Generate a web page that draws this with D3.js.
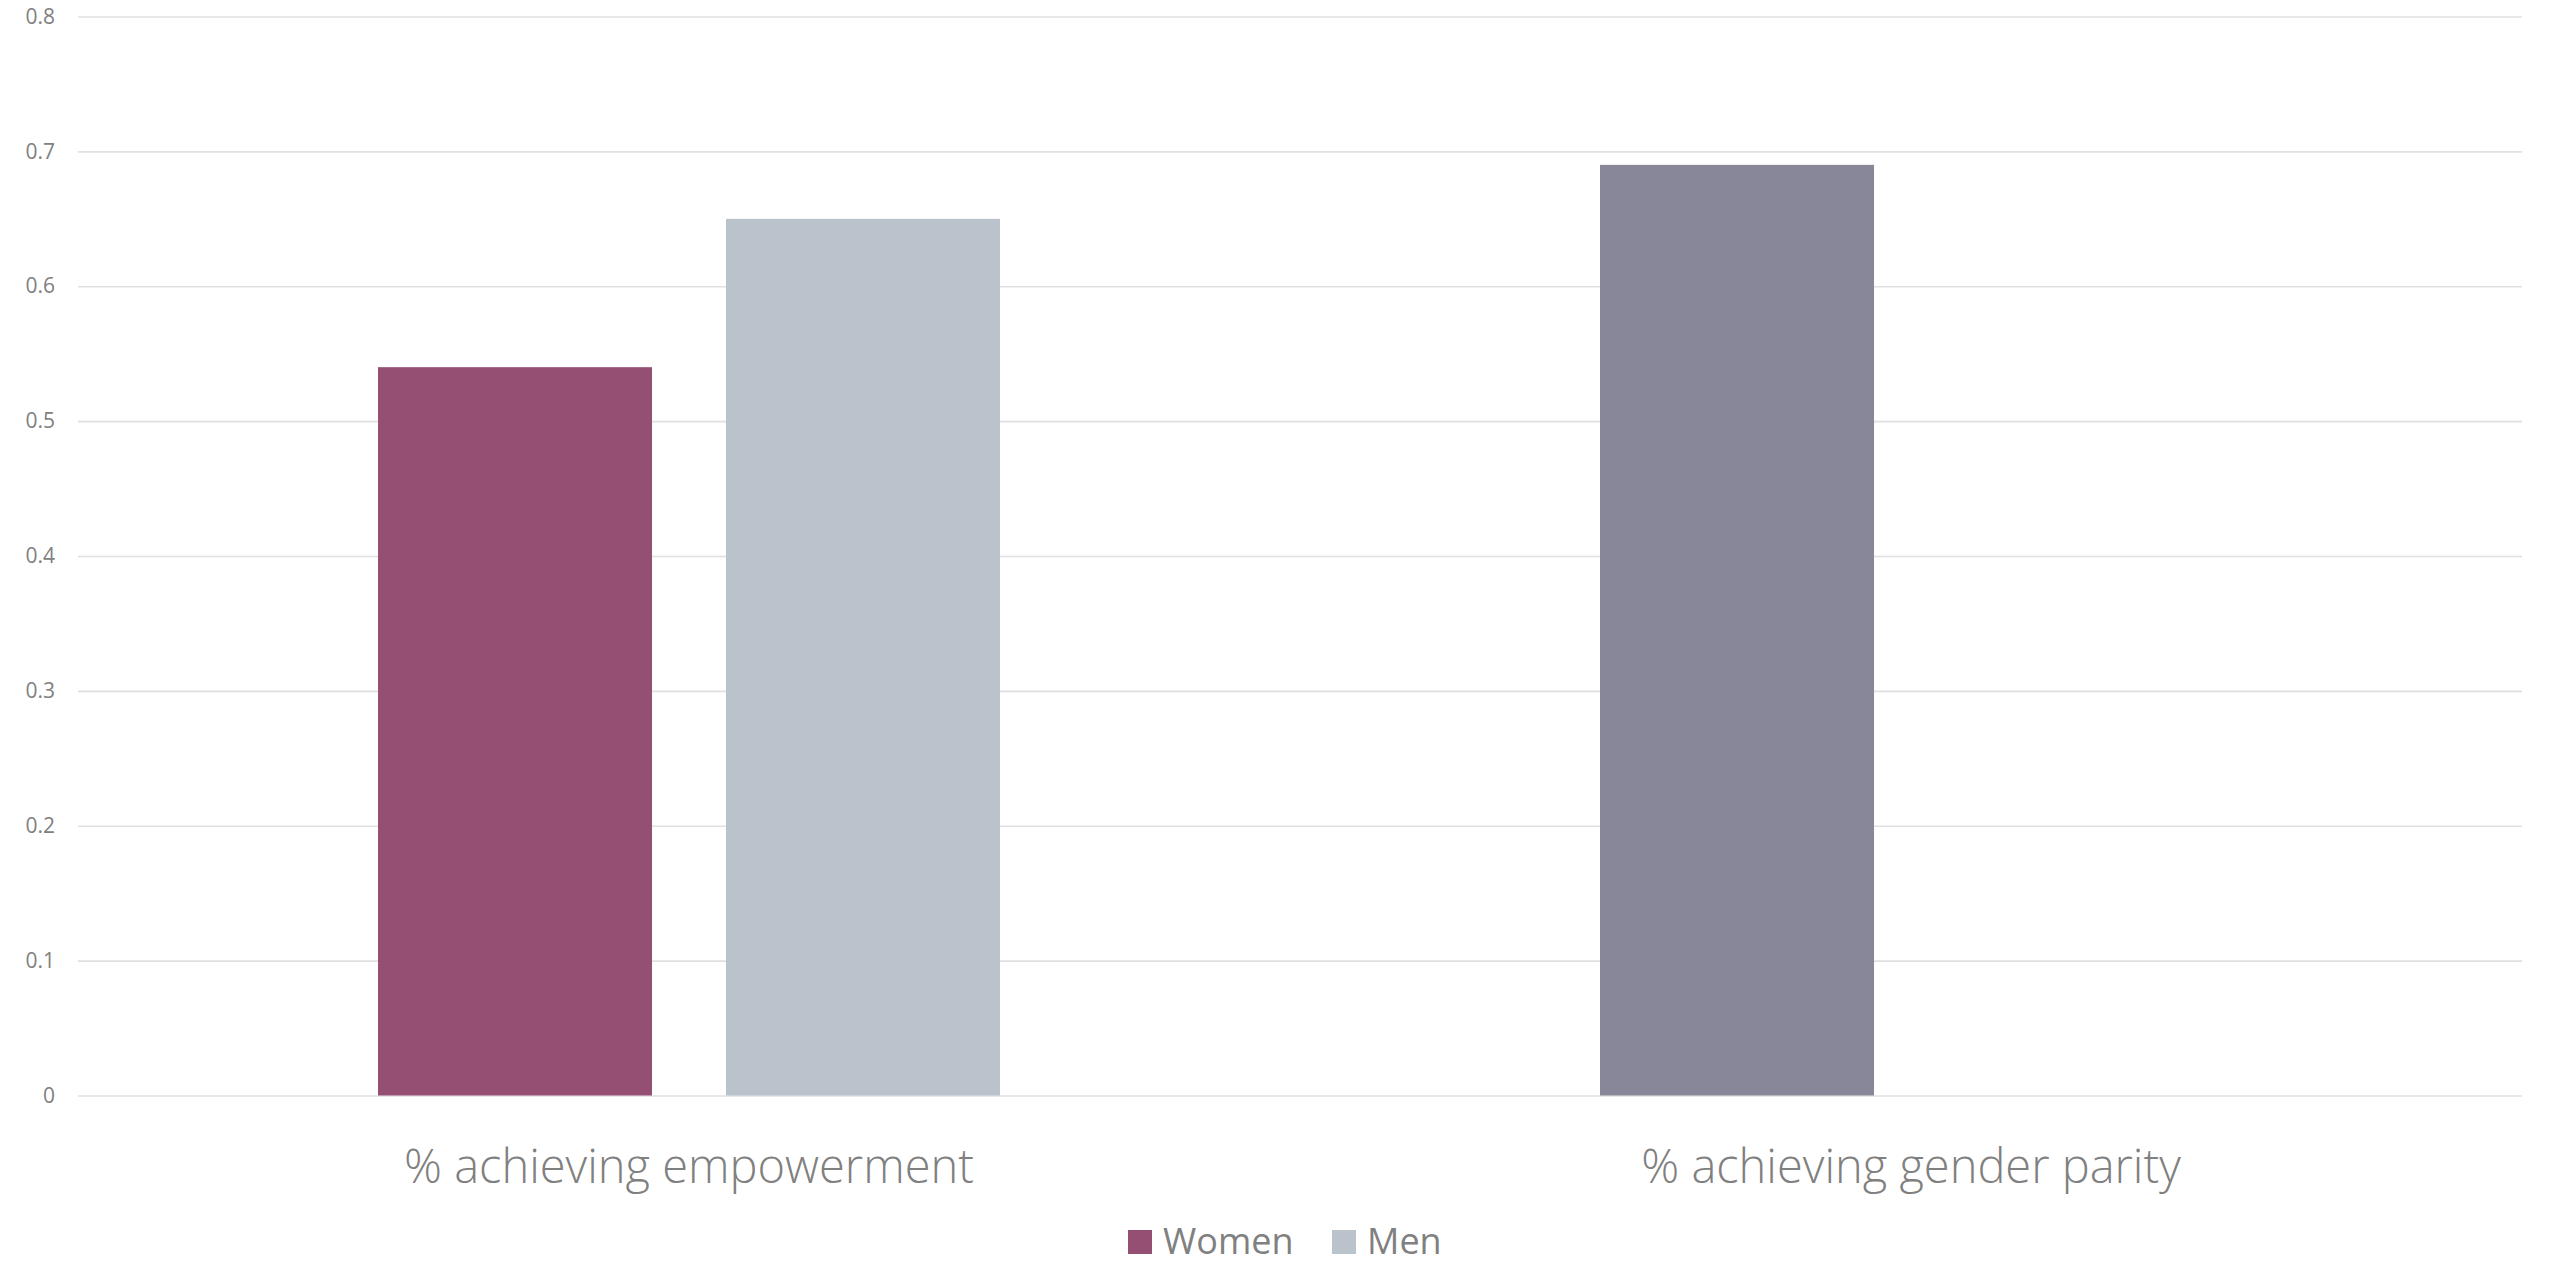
<!DOCTYPE html>
<html>
<head>
<meta charset="utf-8">
<script src="https://cdn.jsdelivr.net/npm/d3@7"></script>
<style>
  html, body { margin: 0; padding: 0; background: #ffffff; }
  svg { display: block; }
  .yaxis text { font-size: 21px !important; font-family: 'Open Sans', 'Noto Sans', sans-serif !important; }
</style>
</head>
<body>
<svg id="chart" width="2552" height="1264"></svg>
<script>
// ---- data ----
const categories = ["% achieving empowerment", "% achieving gender parity"];
const seriesNames = ["Women", "Men"];
const womenValues = [0.54, 0.69];
const menValues = [0.65, null];
const yTicks = [0, 0.1, 0.2, 0.3, 0.4, 0.5, 0.6, 0.7, 0.8];
const seriesColors = ["#954F72", "#BAC2CC"];
// per-point colour override (the gender-parity bar is drawn in a distinct grey-violet)
const pointColors = [[null, "#878799"], [null, null]];

// ---- layout ----
const svg = d3.select("#chart");
const plot = { left: 78, right: 2522, top: 16.5, bottom: 1095.5 };
const textColor = "#808080";
const fontFamily = "'Open Sans', 'Noto Sans', sans-serif";

const y = d3.scaleLinear().domain([0, 0.8]).range([plot.bottom, plot.top]);
const x0 = d3.scaleBand().domain(categories).range([plot.left, plot.right])
  .paddingInner(0.491).paddingOuter(0.2455);
const x1 = d3.scaleBand().domain(seriesNames).range([0, x0.bandwidth()])
  .paddingInner(0.2126).paddingOuter(0);

// gridlines + y labels
const yAxis = d3.axisLeft(y).tickValues(yTicks).tickSize(-(plot.right - plot.left))
  .tickPadding(23).tickFormat(d => d === 0 ? "0" : d3.format(".1f")(d));
const gy = svg.append("g").attr("class", "yaxis")
  .attr("transform", `translate(${plot.left},0)`).call(yAxis);
gy.attr("font-size", 21).attr("font-family", fontFamily);
gy.select(".domain").remove();
gy.selectAll(".tick line").attr("stroke", "#e0e0e0").attr("stroke-width", 1.6);
gy.selectAll(".tick text").attr("fill", textColor);

// bars
const allValues = [womenValues, menValues];
const barData = [];
categories.forEach((c, ci) => {
  seriesNames.forEach((s, si) => {
    const v = allValues[si][ci];
    if (v != null) barData.push({ c, s, v, color: pointColors[si][ci] || seriesColors[si] });
  });
});
svg.append("g").selectAll("rect").data(barData).join("rect")
  .attr("x", d => x0(d.c) + x1(d.s))
  .attr("y", d => y(d.v))
  .attr("width", x1.bandwidth())
  .attr("height", d => y(0) - y(d.v))
  .attr("fill", d => d.color);

// category axis labels
const xAxis = d3.axisBottom(x0).tickSize(0).tickPadding(0);
const gx = svg.append("g").attr("transform", `translate(0,${plot.bottom})`).call(xAxis);
gx.attr("font-size", null).attr("font-family", null);
gx.select(".domain").remove();
gx.selectAll(".tick text").attr("fill", textColor).attr("y", 0).attr("dy", 0)
  .attr("transform", "translate(0,87)")
  .style("font-family", fontFamily).style("font-size", "47px").style("font-weight", 300);

// legend
const legend = svg.append("g");
const legendItems = [
  { name: seriesNames[0], color: seriesColors[0], x: 1128 },
  { name: seriesNames[1], color: seriesColors[1], x: 1332 }
];
legendItems.forEach(it => {
  legend.append("rect").attr("x", it.x).attr("y", 1230).attr("width", 24).attr("height", 24)
    .attr("fill", it.color);
  legend.append("text").attr("x", it.x + 35).attr("y", 1254).text(it.name)
    .attr("fill", textColor).style("font-family", fontFamily).style("font-size", "36px");
});
</script>
</body>
</html>
